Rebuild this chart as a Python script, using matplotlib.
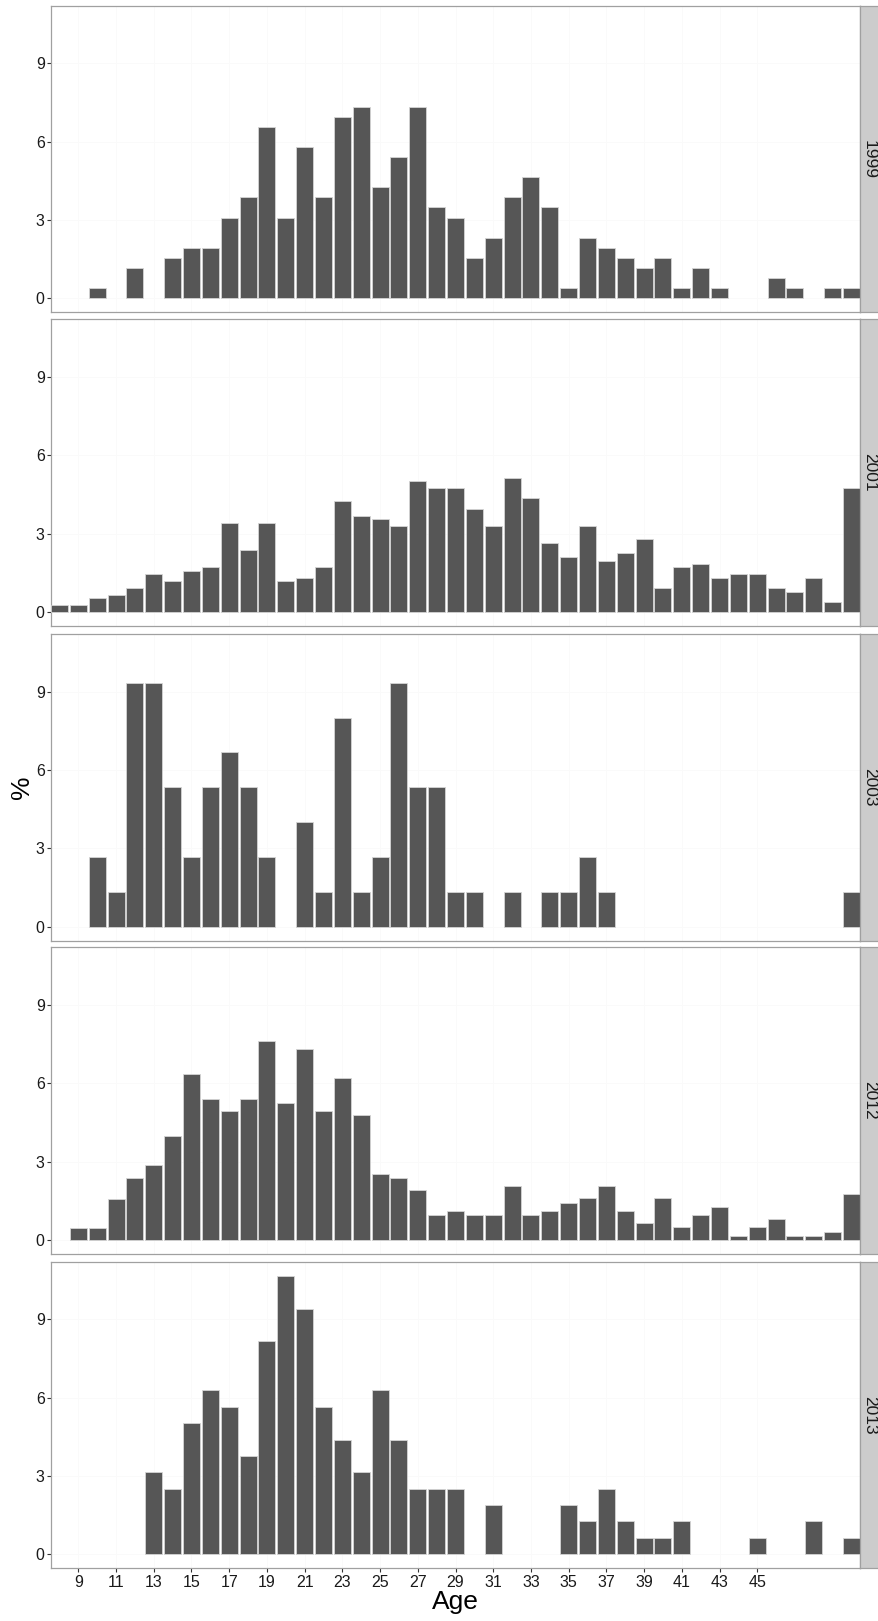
import numpy as np
import matplotlib
matplotlib.use("Agg")
import matplotlib.pyplot as plt

plt.rcParams['font.family'] = ['Liberation Sans', 'DejaVu Sans']

#### data (percent of respondents by age, 50 = last bin)
ages = list(range(8, 51))
years = ["1999", "2001", "2003", "2012", "2013"]

pct_1999 = [0, 0, 0.39, 0, 1.17, 0, 1.55, 1.93, 1.93, 3.09, 3.87, 6.56, 3.09, 5.80, 3.87,
            6.96, 7.34, 4.25, 5.42, 7.34, 3.49, 3.09, 1.55, 2.32, 3.87, 4.63, 3.49, 0.39,
            2.32, 1.93, 1.55, 1.17, 1.55, 0.39, 1.17, 0.39, 0, 0, 0.78, 0.39, 0, 0.39, 0.39]
pct_2001 = [0.26, 0.26, 0.52, 0.66, 0.92, 1.44, 1.19, 1.57, 1.71, 3.42, 2.36, 3.42, 1.19,
            1.31, 1.71, 4.23, 3.69, 3.55, 3.29, 5.00, 4.75, 4.75, 3.96, 3.29, 5.13, 4.35,
            2.63, 2.11, 3.29, 1.97, 2.25, 2.78, 0.92, 1.71, 1.84, 1.31, 1.44, 1.44, 0.92,
            0.78, 1.31, 0.38, 4.75]
pct_2003 = [0, 0, 2.67, 1.33, 9.33, 9.33, 5.33, 2.67, 5.33, 6.67, 5.33, 2.67, 0, 4.0, 1.33,
            8.0, 1.33, 2.67, 9.33, 5.33, 5.33, 1.33, 1.33, 0, 1.33, 0, 1.33, 1.33, 2.67, 1.33,
            0, 0, 0, 0, 0, 0, 0, 0, 0, 0, 0, 0, 1.33]
pct_2012 = [0, 0.47, 0.47, 1.58, 2.39, 2.86, 3.98, 6.36, 5.41, 4.93, 5.41, 7.63, 5.25, 7.31,
            4.93, 6.20, 4.77, 2.54, 2.39, 1.90, 0.96, 1.11, 0.96, 0.96, 2.07, 0.96, 1.11,
            1.43, 1.59, 2.07, 1.11, 0.64, 1.59, 0.48, 0.96, 1.27, 0.16, 0.48, 0.80, 0.16,
            0.16, 0.32, 1.75]
pct_2013 = [0, 0, 0, 0, 0, 3.14, 2.52, 5.03, 6.28, 5.65, 3.78, 8.16, 10.67, 9.41, 5.65, 4.39,
            3.14, 6.28, 4.39, 2.51, 2.51, 2.51, 0, 1.88, 0, 0, 0, 1.88, 1.26, 2.51, 1.26, 0.63,
            0.63, 1.26, 0, 0, 0, 0.63, 0, 0, 1.26, 0, 0.63]

series = [pct_1999, pct_2001, pct_2003, pct_2012, pct_2013]
xticks = list(range(9, 46, 2))
yticks = [0, 3, 6, 9]

#### layout (pixels)
W, H = 879, 1621
left, right = 51, 860
strip_w = 19
panel_h = 306.6
tops = [5.7, 319.3, 634.0, 947.3, 1261.7]

fig = plt.figure(figsize=(W / 100, H / 100), dpi=100)
fig.patch.set_facecolor('white')

ymax = max(max(s) for s in series)
ylo, yhi = -0.05 * ymax, 1.05 * ymax

border = '#a0a0a0'
for i, (yr, vals) in enumerate(zip(years, series)):
    bottom_px = tops[i] + panel_h
    ax = fig.add_axes([left / W, 1 - bottom_px / H, (right - left) / W, panel_h / H])
    a = np.array(ages)
    v = np.array(vals, dtype=float)
    m = v > 0
    ax.bar(a[m], v[m], width=0.9, color='#565656', edgecolor='#d4d4d4', linewidth=0.6, zorder=3)
    ax.set_xlim(7.55, 50.45)
    ax.set_ylim(ylo, yhi)
    ax.set_yticks(yticks)
    ax.set_xticks(xticks)
    # nearly invisible grid, as in the original
    for y in yticks:
        ax.axhline(y, color='#fafafa', lw=0.6, zorder=1)
    for x in xticks:
        ax.axvline(x, color='#fafafa', lw=0.6, zorder=1)
    for s in ax.spines.values():
        s.set_color(border)
        s.set_linewidth(0.9)
    ax.tick_params(axis='y', length=3, width=0.8, color='#333333', pad=1.5,
                   labelsize=11.5, labelcolor='#1a1a1a')
    if i < len(years) - 1:
        ax.tick_params(axis='x', length=0, labelbottom=False)
    else:
        ax.tick_params(axis='x', length=3, width=0.8, color='#333333', pad=2,
                       labelsize=11.5, labelcolor='#1a1a1a')
        ax.set_xlabel('Age', fontsize=19, labelpad=0)

    # facet strip on the right
    sax = fig.add_axes([right / W, 1 - bottom_px / H, strip_w / W, panel_h / H])
    sax.set_facecolor('#cccccc')
    sax.set_xticks([])
    sax.set_yticks([])
    for s in sax.spines.values():
        s.set_color(border)
        s.set_linewidth(0.9)
    sax.text(0.5, 0.5, yr, rotation=270, ha='center', va='center',
             fontsize=12.5, color='#1a1a1a', transform=sax.transAxes)

mid = (tops[0] + tops[-1] + panel_h) / 2
fig.text(22 / W, 1 - mid / H, '%', rotation=90, ha='center', va='center', fontsize=19)

fig.savefig('out.png', dpi=100)
